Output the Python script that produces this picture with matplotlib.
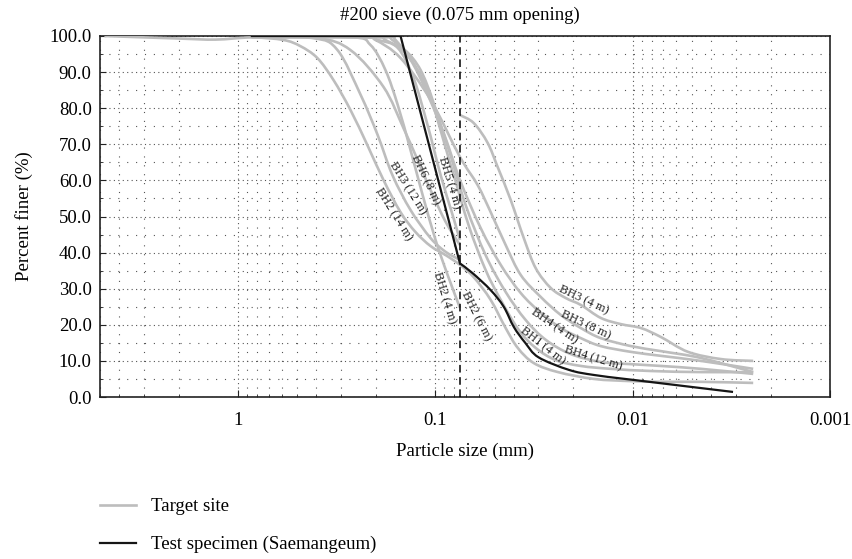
"""
Grain size distribution: target site borings vs. Saemangeum test specimen
"""

import numpy as np
import matplotlib.pyplot as plt
import matplotlib.transforms as mtransforms
from matplotlib.lines import Line2D
from matplotlib.patches import PathPatch
from matplotlib.path import Path
from matplotlib.ticker import MultipleLocator, LogLocator, NullFormatter, FuncFormatter

plt.rcParams['font.family'] = ['Liberation Serif', 'DejaVu Serif']

# particle size (mm) / percent finer (%) per boring sample
bh2_14_d = [4.75, 2.0, 1.3, 0.85, 0.589, 0.483, 0.396, 0.328, 0.269, 0.221, 0.183, 0.150, 0.126,
            0.1056, 0.0886, 0.075, 0.0639, 0.0524, 0.044, 0.0382, 0.0317, 0.0239, 0.0157, 0.0102,
            0.00718, 0.0045, 0.00245]
bh2_14_p = [100, 99.3, 99.0, 99.6, 98.9, 97.2, 93.9, 87.8, 79.5, 69.8, 60.1, 51.2, 45.7,
            41.8, 39.3, 36.6, 33.2, 26.9, 19.1, 13.6, 9.4, 6.9, 5.0, 4.4,
            4.2, 4.2, 3.9]

bh3_12_d = [0.85, 0.415, 0.313, 0.239, 0.196, 0.165, 0.1335, 0.1056, 0.0886, 0.075]
bh3_12_p = [99.7, 99.4, 96.1, 83.7, 72.6, 61.5, 51.8, 44.0, 40.2, 38.0]

bh6_8_d = [0.85, 0.396, 0.269, 0.183, 0.145, 0.123, 0.1056, 0.0886, 0.075]
bh6_8_p = [99.7, 99.4, 96.1, 85.9, 74.5, 65.7, 57.3, 48.5, 42.1]

bh5_4_d = [0.85, 0.239, 0.196, 0.155, 0.129, 0.1094, 0.094, 0.0817, 0.075]
bh5_4_p = [99.7, 99.7, 98.9, 96.7, 88.4, 75.3, 61.5, 50.4, 43.5]

bh2_4_d = [0.85, 0.269, 0.213, 0.179, 0.155, 0.1335, 0.116, 0.0997, 0.0866, 0.075]
bh2_4_p = [99.7, 99.7, 97.5, 90.6, 80.9, 68.4, 56.0, 43.5, 33.8, 24.7]

bh3_4_d = [0.075, 0.0639, 0.0543, 0.0483, 0.0415, 0.0356, 0.0310, 0.0260, 0.0218, 0.0183, 0.0145,
           0.0115, 0.00908, 0.00718, 0.00524, 0.00356, 0.00245]
bh3_4_p = [78.1, 75.9, 70.4, 63.7, 54.6, 44.0, 35.7, 30.2, 27.4, 25.5, 21.9,
           20.2, 19.1, 16.6, 12.5, 10.5, 10.0]

bh3_8_d = [0.85, 0.239, 0.201, 0.150, 0.1056, 0.075, 0.0610, 0.0524, 0.0440, 0.0369, 0.0292,
           0.0231, 0.0183, 0.0145, 0.0102, 0.00718, 0.0045, 0.00245]
bh3_8_p = [99.7, 99.7, 98.9, 93.9, 82.3, 66.5, 58.7, 51.2, 42.1, 33.8, 27.7,
           22.7, 19.1, 16.3, 14.1, 12.7, 10.8, 6.9]

bh4_4_d = [0.85, 0.213, 0.179, 0.1335, 0.094, 0.075, 0.0589, 0.0466, 0.0369, 0.0292, 0.0231,
           0.0183, 0.0145, 0.0102, 0.00718, 0.0045, 0.00245]
bh4_4_p = [99.7, 99.7, 98.9, 93.4, 75.3, 60.1, 46.8, 36.6, 28.8, 23.3, 19.1,
           16.3, 14.1, 12.5, 11.4, 10.0, 7.8]

bh4_12_d = [0.85, 0.194, 0.165, 0.1188, 0.0886, 0.0702, 0.0556, 0.0440, 0.0348, 0.0275, 0.0206,
            0.0145, 0.0102, 0.00718, 0.0045, 0.00245]
bh4_12_p = [99.7, 99.7, 98.9, 90.6, 71.2, 53.2, 39.3, 29.1, 21.3, 15.8, 11.9,
            9.7, 9.1, 8.6, 7.8, 6.4]

bh1_4_d = [0.85, 0.185, 0.159, 0.112, 0.0836, 0.0678, 0.0556, 0.0466, 0.0378, 0.0310, 0.0245,
           0.0183, 0.0129, 0.00807, 0.0045, 0.00245]
bh1_4_p = [99.7, 99.7, 98.9, 86.4, 64.3, 47.6, 35.2, 26.9, 18.6, 13.6, 10.2,
           8.6, 7.8, 7.2, 6.9, 6.9]

# Saemangeum test specimen
test_d = [0.85, 0.425, 0.25, 0.15, 0.075, 0.0647, 0.0524, 0.045, 0.040, 0.035, 0.030,
          0.021, 0.0157, 0.0098, 0.0031]
test_p = [100, 100, 100, 100, 37, 34.3, 29.6, 25.0, 19.4, 15.0, 11.0,
          7.5, 6.1, 4.7, 1.4]

sieve_200 = 0.075
x_ticks = [1, 0.1, 0.01, 0.001]
x_ticklabels = ['1', '0.1', '0.01', '0.001']

target = [
    (bh2_14_d, bh2_14_p), (bh3_12_d, bh3_12_p), (bh6_8_d, bh6_8_p), (bh5_4_d, bh5_4_p),
    (bh2_4_d, bh2_4_p), (bh3_4_d, bh3_4_p), (bh3_8_d, bh3_8_p), (bh4_4_d, bh4_4_p),
    (bh4_12_d, bh4_12_p), (bh1_4_d, bh1_4_p),
]

# curve labels: text, x (mm), y (%), rotation
curve_labels = [
    ('BH2 (14 m)', 0.163, 50.7, -58),
    ('BH3 (12 m)', 0.138, 57.9, -58),
    ('BH6 (8 m)', 0.112, 60.1, -65),
    ('BH5 (4 m)', 0.0846, 59.3, -73),
    ('BH2 (4 m)', 0.0897, 27.4, -73),
    ('BH2 (6 m)', 0.0617, 22.4, -63),
    ('BH3 (4 m)', 0.0177, 26.9, -25),
    ('BH3 (8 m)', 0.0173, 19.9, -25),
    ('BH4 (4 m)', 0.0248, 19.7, -34),
    ('BH1 (4 m)', 0.0285, 14.1, -38),
    ('BH4 (12 m)', 0.0159, 10.8, -17),
]

GRAY = '#bdbdbd'
DARK = '#151515'


def smooth_path(d, p):
    """Smoothed (Catmull-Rom -> Bezier) path through the points, built in log-x space."""
    x = np.log10(np.asarray(d, float))
    y = np.asarray(p, float)
    n = len(x)
    verts = [(x[0], y[0])]
    codes = [Path.MOVETO]
    for i in range(n - 1):
        i0 = max(i - 1, 0)
        i3 = min(i + 2, n - 1)
        c1 = (x[i] + (x[i + 1] - x[i0]) / 6, y[i] + (y[i + 1] - y[i0]) / 6)
        c2 = (x[i + 1] - (x[i3] - x[i]) / 6, y[i + 1] - (y[i3] - y[i]) / 6)
        verts += [c1, c2, (x[i + 1], y[i + 1])]
        codes += [Path.CURVE4] * 3
    verts = [(10 ** vx, vy) for vx, vy in verts]
    return Path(verts, codes)


fig = plt.figure(figsize=(8.52, 5.59), dpi=100)
ax = fig.add_axes([100 / 852, 1 - 397 / 559, 730 / 852, 361 / 559])

ax.set_xscale('log')
ax.set_xlim(5, 0.001)
ax.set_ylim(0, 100)

for d, p in target:
    ax.add_patch(PathPatch(smooth_path(d, p), fill=False, edgecolor=GRAY, lw=1.9,
                           capstyle='butt', zorder=3))

# sieve part is straight, hydrometer tail is smoothed
k = test_d.index(sieve_200)
ax.plot(test_d[:k + 1], test_p[:k + 1], color=DARK, lw=1.6, zorder=4)
ax.add_patch(PathPatch(smooth_path(test_d[k:], test_p[k:]), fill=False, edgecolor=DARK,
                       lw=1.6, capstyle='butt', zorder=4))

ax.axvline(sieve_200, color='black', lw=1.1, ls=(0, (5, 3)), zorder=3.5)

ax.set_xticks(x_ticks)
ax.set_xticklabels(x_ticklabels)
ax.xaxis.set_minor_locator(LogLocator(base=10, subs=range(2, 10)))
ax.xaxis.set_minor_formatter(NullFormatter())
ax.yaxis.set_major_locator(MultipleLocator(10))
ax.yaxis.set_minor_locator(MultipleLocator(5))
ax.yaxis.set_major_formatter(FuncFormatter(lambda v, _: f'{v:.1f}'))

ax.tick_params(which='both', direction='in', top=False, right=False, labelsize=13.5, color='#222')
ax.tick_params(axis='x', which='major', length=5, pad=11)
ax.tick_params(axis='y', which='major', length=4, pad=6)
ax.tick_params(which='minor', length=2.5)

ax.grid(which='major', color='#555', lw=0.8, ls=(0, (1, 3)))
ax.grid(which='minor', color='#555', lw=0.8, ls=(0, (1, 7)))
ax.set_axisbelow(True)

for s in ax.spines.values():
    s.set_color('#222')
    s.set_linewidth(1.2)

ax.set_xlabel('Particle size (mm)', fontsize=13.5, labelpad=10)
ax.set_ylabel('Percent finer (%)', fontsize=13.5, labelpad=12)

trans = mtransforms.blended_transform_factory(ax.transData, ax.transAxes)
ax.text(sieve_200, 1.044, '#200 sieve (0.075 mm opening)', transform=trans,
        ha='center', va='baseline', fontsize=13.5)

for txt, x, y, rot in curve_labels:
    ax.text(x, y, txt, rotation=rot, rotation_mode='anchor', ha='center', va='center',
            fontsize=9, color='#222', zorder=5)

handles = [Line2D([], [], color=GRAY, lw=1.9), Line2D([], [], color=DARK, lw=1.6)]
fig.legend(handles, ['Target site', 'Test specimen (Saemangeum)'], loc='upper left',
           bbox_to_anchor=(100 / 852, 1 - 498 / 559), frameon=False, fontsize=13.5,
           borderpad=0, borderaxespad=0, handlelength=1.9, handletextpad=0.8, labelspacing=1.12)

fig.savefig('out.png', dpi=100)
